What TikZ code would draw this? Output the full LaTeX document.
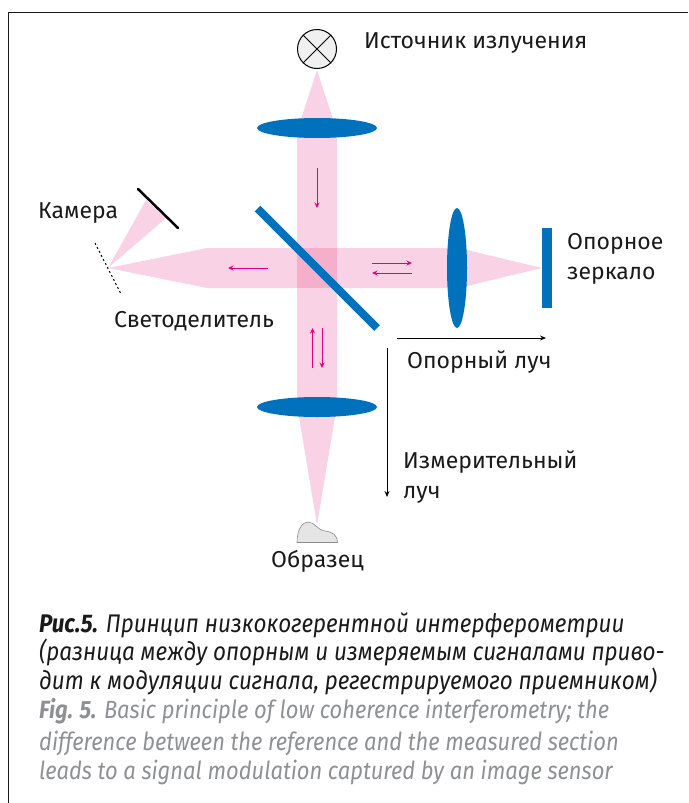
\documentclass[tikz,border=0pt]{standalone}
\usepackage{fontspec}
\usepackage{xcolor}
\setmainfont{Fira Sans}
\newfontfamily\capfont[FakeStretch=0.88]{Fira Sans}
\usetikzlibrary{arrows.meta,positioning,shapes.geometric}
\definecolor{beamcol}{HTML}{F9D3E5}
\definecolor{crosscol}{HTML}{F6AFCB}
\definecolor{opticcol}{HTML}{0071BC}
\definecolor{raycol}{HTML}{E6007E}
\definecolor{captext}{HTML}{1A1A1A}
\definecolor{capgray}{HTML}{8E9094}

\begin{document}
\begin{tikzpicture}[
    x=1pt, y=-1pt,
    label/.style={anchor=base west, inner sep=0pt, text=captext, font=\fontsize{23}{27}\selectfont},
    caption/.style={anchor=base west, inner sep=0pt, text=captext, font=\capfont\itshape\fontsize{25.5}{30}\selectfont},
    captionen/.style={anchor=base west, inner sep=0pt, text=capgray, font=\capfont\itshape\fontsize{24.9}{30}\selectfont},
    lens/.style={ellipse, fill=opticcol, inner sep=0pt, minimum width=120pt, minimum height=20pt},
    lensv/.style={ellipse, fill=opticcol, inner sep=0pt, minimum width=20pt, minimum height=120pt},
    beam/.style={fill=beamcol},
    ray/.style={draw=raycol, line width=0.9pt, -{Stealth[length=5.5pt,width=5pt]}},
    path/.style={draw=black, line width=0.9pt, -{Stealth[length=6pt,width=5pt]}}
]
\useasboundingbox (0,0) rectangle (688,803);

% Frame
\draw[line width=1pt, draw=captext] (688,12) -- (8,12) -- (8,803);

% Beams
\fill[beam] (317,70) -- (333,119) -- (337,128) -- (337,407) -- (335,417) -- (317,525) -- (299,417) -- (297,407) -- (297,128) -- (301,119) -- cycle;
\fill[beam] (108,268) -- (207,248) -- (447,248) -- (457,250) -- (467,250) -- (542,268) -- (467,286) -- (457,288) -- (207,288) -- cycle;
\fill[crosscol] (297,248) rectangle (337,288);
\fill[beam] (108,268) -- (146,200) -- (166,218) -- cycle;

% Light source
\node[circle, draw=black, fill=black!6, line width=1pt, minimum size=39pt, inner sep=0pt] (lamp) at (317,49) {};
\draw[line width=1pt] (lamp.45) -- (lamp.225);
\draw[line width=1pt] (lamp.135) -- (lamp.315);

% Lenses
\node[lens] (lens_top) at (317,128) {};
\node[lens] (lens_bottom) at (317,407) {};
\node[lensv] (lens_right) at (457,268) {};

% Mirror and beam splitter
\fill[opticcol] (542,228) rectangle (552,308);
\draw[opticcol, line width=8pt] (257.5,208.5) -- (377,328);

% Camera
\draw[line width=2.5pt, line cap=round] (138,189) -- (178,228);
\draw[dash pattern=on 2pt off 2.5pt, line width=1pt] (95,243) -- (121,294);

% Sample
\draw[draw=black!45, fill=black!10, line width=0.6pt] (297,542.5) .. controls (297,530) and (302,522) .. (308,522) .. controls (315,522) and (317,530) .. (325,531) .. controls (333,532) and (337,535) .. (337.5,542.5) -- cycle;

% Signal directions
\coordinate (top_a) at (317,168);
\coordinate (top_b) at (317,208);
\coordinate (left_a) at (268,268);
\coordinate (left_b) at (228,268);
\coordinate (out_a) at (372,263);
\coordinate (out_b) at (412,263);
\coordinate (back_a) at (412,273);
\coordinate (back_b) at (372,273);
\coordinate (up_a) at (312.5,368);
\coordinate (up_b) at (312.5,328);
\coordinate (down_a) at (322,328);
\coordinate (down_b) at (322,368);
\draw[ray] (top_a) -- (top_b);
\draw[ray] (left_a) -- (left_b);
\draw[ray] (out_a) -- (out_b);
\draw[ray] (back_a) -- (back_b);
\draw[ray] (up_a) -- (up_b);
\draw[ray] (down_a) -- (down_b);

% Arms
\coordinate (ref_a) at (397,338);
\coordinate (ref_b) at (546,338);
\coordinate (meas_a) at (387,348);
\coordinate (meas_b) at (387,497);
\draw[path] (ref_a) -- (ref_b);
\draw[path] (meas_a) -- (meas_b);

% Labels
\node[label] (source_text) at (364,48) {Источник излучения};
\node[label] (camera_text) at (38,218) {Камера};
\node[label] (mirror_text) at (567,249) {Опорное};
\node[label] (mirror_text2) at (567,279) {зеркало};
\node[label] (splitter_text) at (114,327) {Светоделитель};
\node[label] (ref_text) at (407,368) {Опорный луч};
\node[label] (meas_text) at (403,468) {Измерительный};
\node[label] (meas_text2) at (403,498) {луч};
\node[label] (sample_text) at (271,567) {Образец};

% Caption
\node[caption] (cap_a) at (39,632) {\textbf{Рис.5.} Принцип низкокогерентной интерферометрии};
\node[caption] (cap_b) at (39,660) {(разница между опорным и измеряемым сигналами приво-};
\node[caption] (cap_c) at (39,689) {дит к модуляции сигнала, регестрируемого приемником)};
\node[captionen] (cap_d) at (39,718) {\textbf{Fig. 5.} Basic principle of low coherence interferometry; the};
\node[captionen] (cap_e) at (39,750) {difference between the reference and the measured section};
\node[captionen] (cap_f) at (39,779) {leads to a signal modulation captured by an image sensor};

\end{tikzpicture}
\end{document}
